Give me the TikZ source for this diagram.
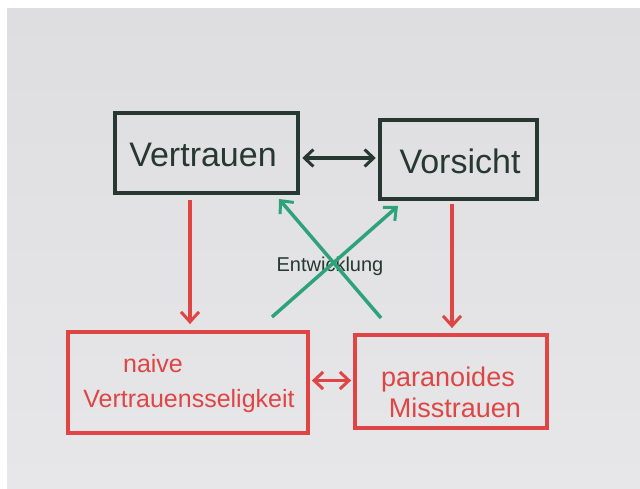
\documentclass[tikz,border=0pt]{standalone}
\usepackage{fontspec}
\setmainfont{Liberation Sans}
\usetikzlibrary{arrows.meta,calc}
\definecolor{paper}{HTML}{E7E7E9}
\definecolor{papertop}{HTML}{DEDEE0}
\definecolor{ink}{HTML}{26382F}
\definecolor{redink}{HTML}{E04545}
\definecolor{greenink}{HTML}{2EA37A}
\begin{document}
\begin{tikzpicture}[x=1pt,y=-1pt,
  darkbox/.style={draw=ink,line width=4.5pt,minimum width=#1,inner sep=0pt},
  redbox/.style={draw=redink,line width=3.8pt,inner sep=0pt},
  bigword/.style={font=\fontsize{34}{36}\selectfont,text=ink,inner sep=0pt},
  redword/.style={font=\fontsize{25}{27}\selectfont,text=redink,inner sep=0pt},
  smallword/.style={font=\fontsize{20}{22}\selectfont,text=ink,inner sep=0pt},
  tip/.style={-{Straight Barb[length=10pt,width=18pt,line width=3pt]}},
  dtip/.style={{Straight Barb[length=9pt,width=17pt,line width=3pt]}-{Straight Barb[length=9pt,width=17pt,line width=3pt]}},
  darkarrow/.style={draw=ink,line width=3.5pt,dtip},
  redarrow/.style={draw=redink,line width=3.2pt,tip},
  reddarrow/.style={draw=redink,line width=3.2pt,dtip},
  greenarrow/.style={draw=greenink,line width=3.5pt,tip}]
\useasboundingbox (0,0) rectangle (640,489);
\fill[white] (0,0) rectangle (640,489);
\shade[top color=papertop,bottom color=paper] (7,9) rectangle (640,489);

% top boxes
\node[darkbox=183pt,minimum height=80pt] (vertrauen) at (206.5,153) {};
\node[bigword] (tvertrauen) at (203,155) {Vertrauen};
\node[darkbox=157pt,minimum height=79pt] (vorsicht) at (458.5,159.5) {};
\node[bigword] (tvorsicht) at (460,161) {Vorsicht};

% bottom boxes
\node[redbox,minimum width=240pt,minimum height=101pt] (naive) at (188,382.5) {};
\node[redword] (tnaive) at (153,364) {naive};
\node[redword] (tselig) at (189,401) {Vertrauensseligkeit};
\node[redbox,minimum width=192pt,minimum height=93pt] (paranoid) at (451,381.5) {};
\node[redword,font=\fontsize{27}{29}\selectfont] (tpara) at (448,380) {paranoides};
\node[redword,font=\fontsize{27}{29}\selectfont] (tmiss) at (455,408) {Misstrauen};

% horizontal double arrows
\draw[darkarrow] ($(vertrauen.east)+(2,5)$) -- ($(vorsicht.west)+(-2,-1.5)$);
\draw[reddarrow] ($(naive.east)+(2,-2)$) -- ($(paranoid.west)+(-2,-1)$);

% vertical red arrows
\draw[redarrow] ($(vertrauen.south)+(-16.5,5)$) -- ($(naive.north)+(2,-6)$);
\draw[redarrow] ($(vorsicht.south)+(-6.5,3)$) -- ($(paranoid.north)+(1,-5)$);

% green crossing arrows
\coordinate (g1s) at (381,318);
\coordinate (g1e) at (279,199);
\coordinate (g2s) at (272,317);
\coordinate (g2e) at (398,206);
\node[smallword] (entw) at (330,266) {Entwicklung};
\draw[greenarrow] (g1s) -- (g1e);
\draw[greenarrow] (g2s) -- (g2e);
\end{tikzpicture}
\end{document}
